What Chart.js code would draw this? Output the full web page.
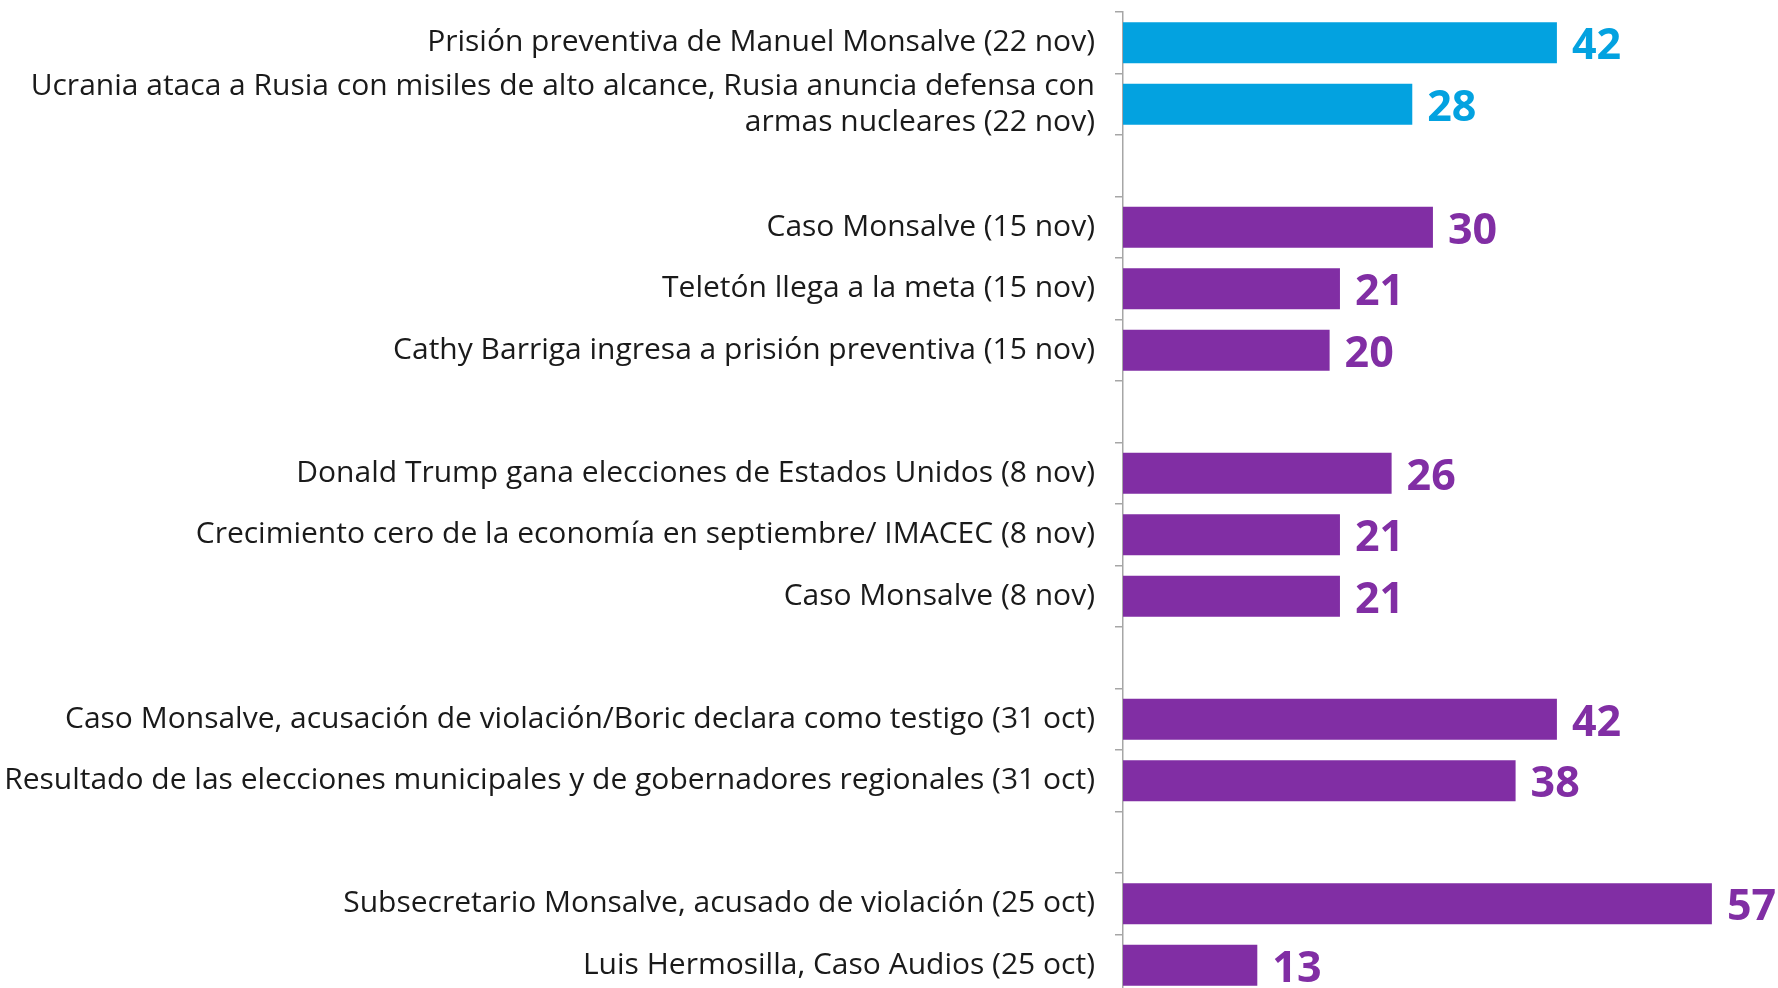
<!DOCTYPE html>
<html>
<head>
<meta charset="utf-8">
<script src="https://cdn.jsdelivr.net/npm/chart.js@4"></script>
<style>
  html, body { margin: 0; padding: 0; background: #fff; overflow: hidden; }
  #wrap { width: 1778px; height: 1000px; }
</style>
</head>
<body>
<div id="wrap"><canvas id="chart" width="1778" height="1000"></canvas></div>
<script>
// Categories (blank entries are the gaps between weeks)
const labels = [
  "Prisión preventiva de Manuel Monsalve (22 nov)",
  ["Ucrania ataca a Rusia con misiles de alto alcance, Rusia anuncia defensa con", "armas nucleares (22 nov)"],
  "",
  "Caso Monsalve (15 nov)",
  "Teletón llega a la meta (15 nov)",
  "Cathy Barriga ingresa a prisión preventiva (15 nov)",
  "",
  "Donald Trump gana elecciones de Estados Unidos (8 nov)",
  "Crecimiento cero de la economía en septiembre/ IMACEC (8 nov)",
  "Caso Monsalve (8 nov)",
  "",
  "Caso Monsalve, acusación de violación/Boric declara como testigo (31 oct)",
  "Resultado de las elecciones municipales y de gobernadores regionales (31 oct)",
  "",
  "Subsecretario Monsalve, acusado de violación (25 oct)",
  "Luis Hermosilla, Caso Audios (25 oct)"
];
const values = [42, 28, null, 30, 21, 20, null, 26, 21, 21, null, 42, 38, null, 57, 13];
const latestWeek = [true, true, false, false, false, false, false, false, false, false, false, false, false, false, false, false];

const BLUE = "#03A2E0";
const PURPLE = "#812EA4";
const barColors = latestWeek.map(b => b ? BLUE : PURPLE);

// value labels at the end of each bar
const valueLabels = {
  id: "valueLabels",
  afterDatasetsDraw(chart) {
    const ctx = chart.ctx;
    const meta = chart.getDatasetMeta(0);
    ctx.save();
    ctx.font = "bold 43px 'Open Sans'";
    ctx.textBaseline = "middle";
    ctx.textAlign = "left";
    meta.data.forEach((bar, i) => {
      if (values[i] == null) return;
      ctx.fillStyle = barColors[i];
      ctx.fillText(String(values[i]), bar.x + 15, bar.y + 4);
    });
    ctx.restore();
  }
};

new Chart(document.getElementById("chart").getContext("2d"), {
  type: "bar",
  data: {
    labels: labels,
    datasets: [{
      data: values,
      backgroundColor: barColors,
      barPercentage: 0.67,
      categoryPercentage: 1
    }]
  },
  options: {
    indexAxis: "y",
    responsive: false,
    animation: false,
    devicePixelRatio: 1,
    layout: { padding: { top: 12, bottom: 4, left: 0, right: 0 } },
    plugins: {
      legend: { display: false },
      tooltip: { enabled: false }
    },
    scales: {
      x: {
        display: false,
        min: 0,
        max: 63.4
      },
      y: {
        afterFit(scale) {
          scale.width = 1123;
          scale.paddingTop = 0;
          scale.paddingBottom = 0;
        },
        grid: {
          offset: true,
          drawOnChartArea: false,
          tickLength: 8,
          color: "#a6a6a6",
          lineWidth: 1.5
        },
        border: { color: "#a6a6a6", width: 1.5 },
        ticks: {
          padding: 20,
          color: "#1a1a1a",
          font: { family: "'Open Sans'", size: 30 },
          autoSkip: false
        }
      }
    }
  },
  plugins: [valueLabels]
});
</script>
</body>
</html>
